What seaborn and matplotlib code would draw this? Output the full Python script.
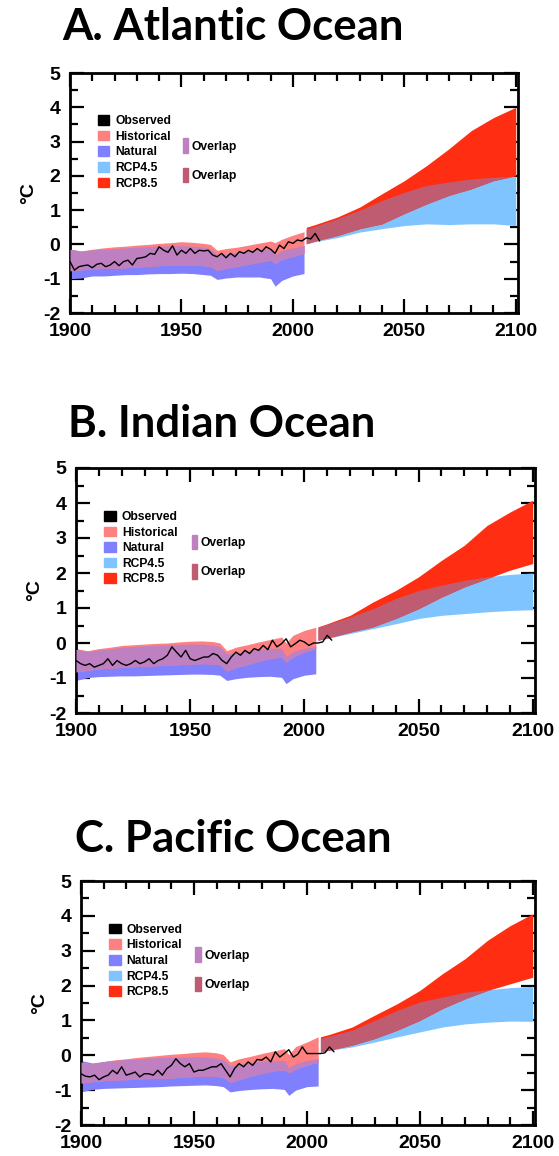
import numpy as np
import pandas as pd
import matplotlib
matplotlib.use("Agg")
import matplotlib.pyplot as plt
from matplotlib.patches import Patch
from matplotlib.ticker import MultipleLocator
import seaborn as sns

# ---------------- data ----------------
obs_years = list(range(1900, 2013, 2))

obs_atlantic = [-0.50, -0.75, -0.65, -0.62, -0.60, -0.68, -0.58, -0.55, -0.65, -0.60,
                -0.50, -0.62, -0.50, -0.46, -0.60, -0.41, -0.39, -0.36, -0.26, -0.29,
                -0.07, -0.17, -0.23, -0.04, -0.31, -0.17, -0.26, -0.12, -0.26, -0.17,
                -0.19, -0.17, -0.31, -0.36, -0.26, -0.39, -0.26, -0.36, -0.21, -0.26,
                -0.17, -0.23, -0.12, -0.21, -0.07, -0.14, -0.26, -0.02, -0.12, 0.08,
                0.03, 0.13, 0.10, 0.19, 0.16, 0.32, 0.10]
obs_indian = [-0.50, -0.59, -0.64, -0.59, -0.69, -0.64, -0.59, -0.45, -0.64, -0.50,
              -0.59, -0.64, -0.59, -0.50, -0.59, -0.54, -0.45, -0.59, -0.50, -0.45,
              -0.35, -0.11, -0.26, -0.40, -0.21, -0.45, -0.50, -0.45, -0.40, -0.40,
              -0.30, -0.35, -0.50, -0.59, -0.40, -0.26, -0.35, -0.21, -0.30, -0.16,
              -0.21, -0.07, -0.19, 0.08, -0.11, -0.02, 0.12, -0.11, -0.02, 0.08,
              0.03, -0.07, 0.00, 0.00, 0.03, 0.22, 0.08]
obs_pacific = [-0.53, -0.60, -0.62, -0.57, -0.70, -0.62, -0.57, -0.43, -0.53, -0.33,
               -0.57, -0.53, -0.48, -0.62, -0.53, -0.53, -0.57, -0.43, -0.57, -0.38,
               -0.29, -0.10, -0.24, -0.33, -0.24, -0.48, -0.43, -0.43, -0.38, -0.33,
               -0.33, -0.24, -0.43, -0.62, -0.38, -0.24, -0.33, -0.19, -0.29, -0.12,
               -0.14, -0.05, -0.19, 0.10, -0.05, 0.05, 0.16, -0.05, 0.03, 0.24,
               0.05, 0.05, 0.05, 0.05, 0.07, 0.24, 0.10]

hist_years = [1900, 1905, 1910, 1915, 1920, 1925, 1930, 1935, 1940, 1945, 1950, 1955,
              1960, 1963, 1966, 1970, 1975, 1980, 1985, 1990, 1992, 1995, 2000, 2005]

# Atlantic: historical / natural ranges
hist_hi_atl = [-0.14, -0.19, -0.14, -0.10, -0.07, -0.05, -0.02, 0.00, 0.03, 0.05, 0.08, 0.06,
               0.03, 0.00, -0.17, -0.12, -0.08, -0.02, 0.04, 0.10, 0.05, 0.15, 0.27, 0.37]
hist_lo_atl = [-0.77, -0.74, -0.72, -0.70, -0.70, -0.68, -0.66, -0.64, -0.62, -0.60, -0.60, -0.60,
               -0.62, -0.64, -0.76, -0.70, -0.64, -0.58, -0.52, -0.46, -0.56, -0.44, -0.35, -0.26]
nat_hi_atl = [-0.14, -0.20, -0.16, -0.14, -0.12, -0.10, -0.08, -0.06, -0.05, -0.04, -0.03, -0.05,
              -0.08, -0.12, -0.30, -0.27, -0.22, -0.18, -0.15, -0.12, -0.30, -0.18, -0.10, -0.03]
nat_lo_atl = [-1.00, -0.98, -0.92, -0.92, -0.90, -0.88, -0.88, -0.86, -0.85, -0.85, -0.84, -0.85,
              -0.88, -0.90, -1.02, -0.98, -0.95, -0.95, -0.95, -1.00, -1.22, -1.05, -0.92, -0.85]

# Indian
hist_hi_ind = [-0.16, -0.22, -0.16, -0.12, -0.07, -0.05, -0.03, -0.01, 0.00, 0.03, 0.05, 0.06,
               0.04, 0.00, -0.22, -0.12, -0.05, 0.03, 0.10, 0.17, 0.00, 0.22, 0.36, 0.45]
hist_lo_ind = [-0.83, -0.78, -0.74, -0.72, -0.70, -0.68, -0.66, -0.65, -0.64, -0.62, -0.60, -0.59,
               -0.60, -0.62, -0.80, -0.70, -0.62, -0.52, -0.45, -0.40, -0.55, -0.40, -0.26, -0.16]
nat_hi_ind = [-0.18, -0.24, -0.20, -0.16, -0.12, -0.10, -0.08, -0.06, -0.05, -0.04, -0.03, -0.03,
              -0.06, -0.10, -0.32, -0.28, -0.22, -0.18, -0.15, -0.15, -0.38, -0.25, -0.15, -0.10]
nat_lo_ind = [-1.07, -0.99, -0.96, -0.95, -0.94, -0.94, -0.93, -0.92, -0.91, -0.90, -0.89, -0.89,
              -0.90, -0.92, -1.07, -1.02, -0.98, -0.96, -0.95, -0.98, -1.16, -1.02, -0.92, -0.88]

# Pacific
hist_hi_pac = [-0.19, -0.25, -0.18, -0.13, -0.10, -0.06, -0.03, 0.00, 0.03, 0.05, 0.08, 0.10,
               0.07, 0.02, -0.19, -0.10, -0.03, 0.05, 0.12, 0.19, 0.02, 0.25, 0.38, 0.53]
hist_lo_pac = [-0.80, -0.76, -0.73, -0.71, -0.70, -0.68, -0.67, -0.66, -0.65, -0.63, -0.61, -0.60,
               -0.61, -0.63, -0.78, -0.70, -0.60, -0.52, -0.45, -0.42, -0.50, -0.40, -0.28, -0.20]
nat_hi_pac = [-0.15, -0.22, -0.18, -0.15, -0.12, -0.10, -0.08, -0.06, -0.05, -0.05, -0.04, -0.05,
              -0.08, -0.12, -0.30, -0.26, -0.20, -0.17, -0.15, -0.15, -0.35, -0.24, -0.15, -0.10]
nat_lo_pac = [-1.05, -0.98, -0.95, -0.94, -0.93, -0.92, -0.91, -0.90, -0.88, -0.87, -0.86, -0.85,
              -0.87, -0.90, -1.05, -1.01, -0.98, -0.96, -0.95, -0.98, -1.15, -1.00, -0.90, -0.88]

rcp_years = [2006, 2010, 2020, 2030, 2040, 2050, 2060, 2070, 2080, 2090, 2100]

r85_hi_atl = [0.50, 0.58, 0.80, 1.09, 1.48, 1.86, 2.30, 2.79, 3.32, 3.70, 4.00]
r85_lo_atl = [0.02, 0.10, 0.26, 0.46, 0.60, 0.90, 1.18, 1.43, 1.62, 1.86, 2.00]
r45_hi_atl = [0.45, 0.53, 0.75, 1.00, 1.28, 1.52, 1.72, 1.82, 1.91, 1.96, 1.98]
r45_lo_atl = [0.02, 0.08, 0.20, 0.36, 0.46, 0.55, 0.60, 0.58, 0.60, 0.60, 0.55]

r85_hi_ind = [0.46, 0.55, 0.79, 1.17, 1.50, 1.89, 2.36, 2.79, 3.36, 3.74, 4.08]
r85_lo_ind = [0.08, 0.14, 0.31, 0.46, 0.70, 0.98, 1.31, 1.60, 1.84, 2.08, 2.27]
r45_hi_ind = [0.46, 0.53, 0.74, 0.98, 1.27, 1.50, 1.65, 1.79, 1.89, 1.96, 2.00]
r45_lo_ind = [0.08, 0.13, 0.27, 0.41, 0.55, 0.70, 0.79, 0.84, 0.89, 0.93, 0.95]

r85_hi_pac = [0.53, 0.60, 0.81, 1.15, 1.48, 1.86, 2.34, 2.77, 3.30, 3.72, 4.06]
r85_lo_pac = [0.10, 0.15, 0.29, 0.48, 0.72, 1.00, 1.34, 1.62, 1.86, 2.05, 2.24]
r45_hi_pac = [0.48, 0.55, 0.72, 1.00, 1.29, 1.53, 1.67, 1.81, 1.88, 1.94, 1.98]
r45_lo_pac = [0.10, 0.14, 0.24, 0.38, 0.53, 0.67, 0.81, 0.90, 0.95, 0.98, 0.98]

titles = ["A. Atlantic Ocean", "B. Indian Ocean", "C. Pacific Ocean"]
legend_labels = ["Observed", "Historical", "Natural", "RCP4.5", "RCP8.5"]
overlap_label = "Overlap"

# ---------------- style ----------------
C_OBS = "#000000"
C_HIST = "#FF8080"
C_NAT = "#8080FF"
C_HN = "#BE80C0"
C_45 = "#80C4FF"
C_85 = "#FF2E12"
C_RR = "#C05C72"

sns.set_theme(style="ticks")
plt.rcParams["font.family"] = ["Liberation Sans", "DejaVu Sans"]
plt.rcParams["axes.unicode_minus"] = False
for key in ("text.color", "axes.labelcolor", "xtick.color", "ytick.color"):
    plt.rcParams[key] = "black"

fig = plt.figure(figsize=(5.59, 11.56), dpi=100)

# axes boxes in pixels: left, top, right, bottom
boxes = [(70, 73, 518, 313), (76, 468, 535, 713), (81, 881, 535, 1125)]
title_pos = [(62, 40), (68, 437), (75, 852)]
W, H = 559, 1156


def band(ax, x, lo, hi, color):
    ax.fill_between(x, lo, hi, color=color, lw=0, zorder=2)


def overlap(ax, x, lo1, hi1, lo2, hi2, color):
    lo = np.maximum(lo1, lo2)
    hi = np.minimum(hi1, hi2)
    ax.fill_between(x, lo, hi, where=hi > lo, interpolate=True, color=color, lw=0, zorder=3)


panels = [
    (obs_atlantic, hist_hi_atl, hist_lo_atl, nat_hi_atl, nat_lo_atl,
     r45_hi_atl, r45_lo_atl, r85_hi_atl, r85_lo_atl),
    (obs_indian, hist_hi_ind, hist_lo_ind, nat_hi_ind, nat_lo_ind,
     r45_hi_ind, r45_lo_ind, r85_hi_ind, r85_lo_ind),
    (obs_pacific, hist_hi_pac, hist_lo_pac, nat_hi_pac, nat_lo_pac,
     r45_hi_pac, r45_lo_pac, r85_hi_pac, r85_lo_pac),
]

hy = np.array(hist_years, dtype=float)
ry = np.array(rcp_years, dtype=float)

for i, (box, data) in enumerate(zip(boxes, panels)):
    l, t, r, b = box
    ax = fig.add_axes([l / W, 1 - b / H, (r - l) / W, (b - t) / H])
    obs, hh, hl, nh, nl, r45h, r45l, r85h, r85l = [np.array(d, dtype=float) for d in data]

    # historical vs natural ranges
    band(ax, hy, nl, nh, C_NAT)
    band(ax, hy, hl, hh, C_HIST)
    overlap(ax, hy, hl, hh, nl, nh, C_HN)

    # scenario ranges
    band(ax, ry, r45l, r45h, C_45)
    band(ax, ry, r85l, r85h, C_85)
    overlap(ax, ry, r45l, r45h, r85l, r85h, C_RR)

    # observations
    df = pd.DataFrame({"year": obs_years, "anom": obs})
    sns.lineplot(data=df, x="year", y="anom", ax=ax, color=C_OBS, lw=1.0, zorder=5)

    ax.set_xlim(1900, 2101)
    ax.set_ylim(-2, 5)
    ax.set_xlabel("")
    ax.set_ylabel("°C", fontsize=14, fontweight="bold", labelpad=4)
    ax.xaxis.set_major_locator(MultipleLocator(50))
    ax.xaxis.set_minor_locator(MultipleLocator(10))
    ax.yaxis.set_major_locator(MultipleLocator(1))
    ax.yaxis.set_minor_locator(MultipleLocator(0.5))
    ax.tick_params(which="both", direction="in", top=True, right=True, width=1.6,
                   color="black", labelcolor="black")
    ax.tick_params(which="major", length=10, labelsize=14, pad=7)
    ax.tick_params(which="minor", length=6)
    for lab in ax.get_xticklabels() + ax.get_yticklabels():
        lab.set_fontweight("bold")
    for sp in ax.spines.values():
        sp.set_linewidth(2.0)
        sp.set_color("black")

    # legends
    legend_font = {"size": 8.7, "weight": "bold"}
    handles = [Patch(color=c) for c in (C_OBS, C_HIST, C_NAT, C_45, C_85)]
    leg1 = ax.legend(handles, legend_labels, loc="upper left",
                     bbox_to_anchor=(0.062, 0.825), frameon=False, prop=legend_font,
                     handlelength=0.95, handleheight=0.85, handletextpad=0.5,
                     labelspacing=0.3, borderpad=0, borderaxespad=0)
    ax.add_artist(leg1)
    ov_handles = [Patch(color=C_HN), Patch(color=C_RR)]
    ax.legend(ov_handles, [overlap_label, overlap_label], loc="upper left",
              bbox_to_anchor=(0.252, 0.728), frameon=False, prop=legend_font,
              handlelength=0.45, handleheight=1.5, handletextpad=0.3,
              labelspacing=1.2, borderpad=0, borderaxespad=0)

    tx, ty = title_pos[i]
    fig.text(tx / W, 1 - ty / H, titles[i], fontsize=31.5, fontweight="bold",
             color="black", family=["Lato", "DejaVu Sans"], ha="left", va="baseline")

fig.savefig("out.png", dpi=100)
